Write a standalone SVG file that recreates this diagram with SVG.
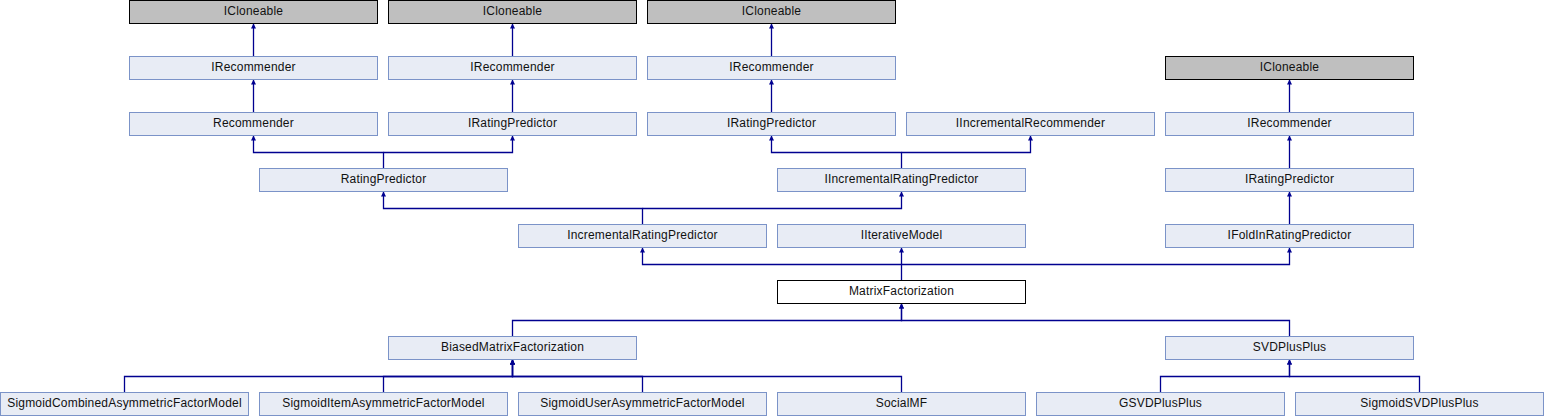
<svg xmlns="http://www.w3.org/2000/svg" width="1544" height="416" viewBox="0 0 1544 416">
<style>
.n rect{fill:#E8ECF5;stroke:#7B93C8;stroke-width:1}
.g rect{fill:#BFBFBF;stroke:#000;stroke-width:1}
.w rect{fill:#fff;stroke:#000;stroke-width:1}
text{font-family:"Liberation Sans",Arial,sans-serif;font-size:12px;letter-spacing:0.2px;text-anchor:middle;fill:#111}
.e path{fill:none;stroke:#000090;stroke-width:1.3;marker-end:url(#a)}
</style>
<defs>
<marker id="a" viewBox="0 0 10 10" refX="10" refY="5" markerWidth="7" markerHeight="5" markerUnits="userSpaceOnUse" orient="auto">
<path d="M0,0 L10,5 L0,10 z" fill="#000090" stroke="none"/>
</marker>
</defs>
<g class="e" id="connectors">
<path d="M253.5,56.5 V23.5"/>
<path d="M512.5,56.5 V23.5"/>
<path d="M771.5,56.5 V23.5"/>
<path d="M253.5,112.5 V79.5"/>
<path d="M512.5,112.5 V79.5"/>
<path d="M771.5,112.5 V79.5"/>
<path d="M1289.5,112.5 V79.5"/>
<path d="M1289.5,168.5 V135.5"/>
<path d="M1289.5,224.5 V191.5"/>
<path d="M383.5,168.5 V152.5 H253.5 V135.5"/>
<path d="M383.5,152.5 H512.5 V135.5"/>
<path d="M901.5,168.5 V152.5 H771.5 V135.5"/>
<path d="M901.5,152.5 H1030.5 V135.5"/>
<path d="M642.5,224.5 V208.5 H383.5 V191.5"/>
<path d="M642.5,208.5 H901.5 V191.5"/>
<path d="M901.5,280.5 V264.5 H642.5 V247.5"/>
<path d="M901.5,264.5 V247.5"/>
<path d="M901.5,264.5 H1289.5 V247.5"/>
<path d="M512.5,336.5 V320.5 H901.5 V303.5"/>
<path d="M1289.5,336.5 V320.5 H901.5 V303.5"/>
<path d="M124.5,392.5 V376.5 H512.5 V359.5"/>
<path d="M383.5,392.5 V376.5 H512.5 V359.5"/>
<path d="M642.5,392.5 V376.5 H512.5 V359.5"/>
<path d="M901.5,392.5 V376.5 H512.5 V359.5"/>
<path d="M1160.5,392.5 V376.5 H1289.5 V359.5"/>
<path d="M1419.5,392.5 V376.5 H1289.5 V359.5"/>
</g>
<g id="icloneable1" class="g"><rect x="129.5" y="0.5" width="248" height="23"/><text x="253.5" y="15">ICloneable</text></g>
<g id="icloneable2" class="g"><rect x="388.5" y="0.5" width="248" height="23"/><text x="512.5" y="15">ICloneable</text></g>
<g id="icloneable3" class="g"><rect x="647.5" y="0.5" width="248" height="23"/><text x="771.5" y="15">ICloneable</text></g>
<g id="irecommender1" class="n"><rect x="129.5" y="56.5" width="248" height="23"/><text x="253.5" y="71">IRecommender</text></g>
<g id="irecommender2" class="n"><rect x="388.5" y="56.5" width="248" height="23"/><text x="512.5" y="71">IRecommender</text></g>
<g id="irecommender3" class="n"><rect x="647.5" y="56.5" width="248" height="23"/><text x="771.5" y="71">IRecommender</text></g>
<g id="icloneable4" class="g"><rect x="1165.5" y="56.5" width="248" height="23"/><text x="1289.5" y="71">ICloneable</text></g>
<g id="recommender" class="n"><rect x="129.5" y="112.5" width="248" height="23"/><text x="253.5" y="127">Recommender</text></g>
<g id="iratingpredictor1" class="n"><rect x="388.5" y="112.5" width="248" height="23"/><text x="512.5" y="127">IRatingPredictor</text></g>
<g id="iratingpredictor2" class="n"><rect x="647.5" y="112.5" width="248" height="23"/><text x="771.5" y="127">IRatingPredictor</text></g>
<g id="iincrementalrecommender" class="n"><rect x="906.5" y="112.5" width="248" height="23"/><text x="1030.5" y="127">IIncrementalRecommender</text></g>
<g id="irecommender4" class="n"><rect x="1165.5" y="112.5" width="248" height="23"/><text x="1289.5" y="127">IRecommender</text></g>
<g id="ratingpredictor" class="n"><rect x="259.5" y="168.5" width="248" height="23"/><text x="383.5" y="183">RatingPredictor</text></g>
<g id="iincrementalratingpredictor" class="n"><rect x="777.5" y="168.5" width="248" height="23"/><text x="901.5" y="183">IIncrementalRatingPredictor</text></g>
<g id="iratingpredictor3" class="n"><rect x="1165.5" y="168.5" width="248" height="23"/><text x="1289.5" y="183">IRatingPredictor</text></g>
<g id="incrementalratingpredictor" class="n"><rect x="518.5" y="224.5" width="248" height="23"/><text x="642.5" y="239">IncrementalRatingPredictor</text></g>
<g id="iiterativemodel" class="n"><rect x="777.5" y="224.5" width="248" height="23"/><text x="901.5" y="239">IIterativeModel</text></g>
<g id="ifoldinratingpredictor" class="n"><rect x="1165.5" y="224.5" width="248" height="23"/><text x="1289.5" y="239">IFoldInRatingPredictor</text></g>
<g id="matrixfactorization" class="w"><rect x="777.5" y="280.5" width="248" height="23"/><text x="901.5" y="295">MatrixFactorization</text></g>
<g id="biasedmatrixfactorization" class="n"><rect x="388.5" y="336.5" width="248" height="23"/><text x="512.5" y="351">BiasedMatrixFactorization</text></g>
<g id="svdplusplus" class="n"><rect x="1165.5" y="336.5" width="248" height="23"/><text x="1289.5" y="351">SVDPlusPlus</text></g>
<g id="sigmoidcombined" class="n"><rect x="0.5" y="392.5" width="248" height="23"/><text x="124.5" y="407">SigmoidCombinedAsymmetricFactorModel</text></g>
<g id="sigmoiditem" class="n"><rect x="259.5" y="392.5" width="248" height="23"/><text x="383.5" y="407">SigmoidItemAsymmetricFactorModel</text></g>
<g id="sigmoiduser" class="n"><rect x="518.5" y="392.5" width="248" height="23"/><text x="642.5" y="407">SigmoidUserAsymmetricFactorModel</text></g>
<g id="socialmf" class="n"><rect x="777.5" y="392.5" width="248" height="23"/><text x="901.5" y="407">SocialMF</text></g>
<g id="gsvdplusplus" class="n"><rect x="1036.5" y="392.5" width="248" height="23"/><text x="1160.5" y="407">GSVDPlusPlus</text></g>
<g id="sigmoidsvdplusplus" class="n"><rect x="1295.5" y="392.5" width="248" height="23"/><text x="1419.5" y="407">SigmoidSVDPlusPlus</text></g>
</svg>
